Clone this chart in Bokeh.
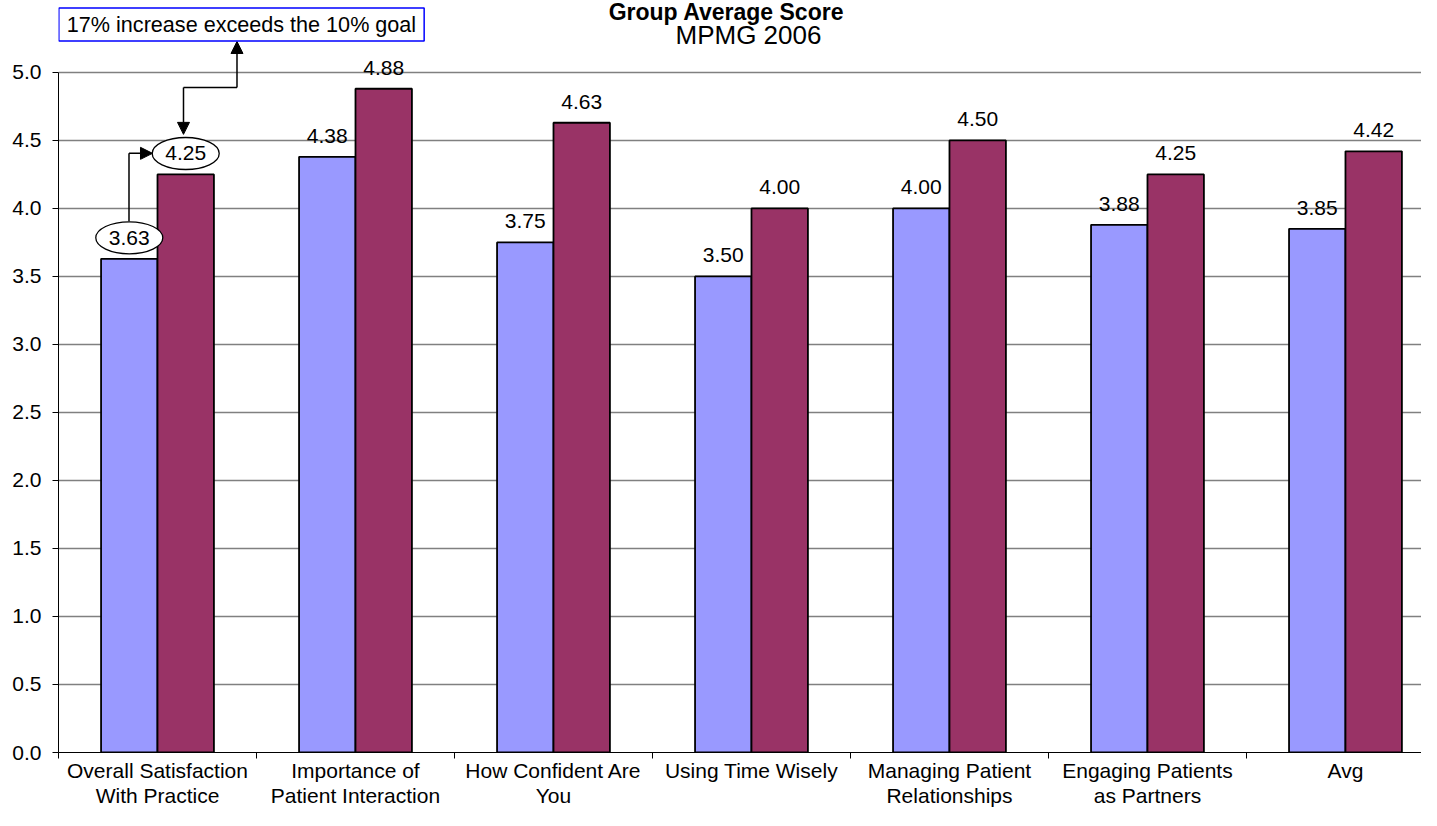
from bokeh.plotting import figure
from bokeh.models import (ColumnDataSource, FixedTicker, LabelSet, Label, Arrow,
                          NormalHead, Range1d, NumeralTickFormatter)
from bokeh.transform import dodge
from bokeh.core.properties import value
from bokeh.embed import file_html
from bokeh.resources import INLINE

# ---------------- data ----------------
categories = ["Overall Satisfaction\nWith Practice", "Importance of\nPatient Interaction",
              "How Confident Are\nYou", "Using Time Wisely", "Managing Patient\nRelationships",
              "Engaging Patients\nas Partners", "Avg"]
before = [3.63, 4.38, 3.75, 3.50, 4.00, 3.88, 3.85]
after = [4.25, 4.88, 4.63, 4.00, 4.50, 4.25, 4.42]
y_ticks = [0.0, 0.5, 1.0, 1.5, 2.0, 2.5, 3.0, 3.5, 4.0, 4.5, 5.0]
title_text = "Group Average Score"
subtitle_text = "MPMG 2006"
note_text = "17% increase exceeds the 10% goal"

BLUE = "#9999FF"
MAROON = "#993366"
FONT_NAME = "Liberation Sans"
FONT = value(FONT_NAME)

xs = list(range(len(categories)))
src = ColumnDataSource(dict(
    x=xs, before=before, after=after,
    before_txt=[f"{v:.2f}" for v in before],
    after_txt=[f"{v:.2f}" for v in after],
))

# frame: left 58px, top 0px (room for titles/annotations), bottom ~753px
Y_TOP = 5.529
p = figure(width=1421, height=810, x_range=Range1d(-0.5, 6.384), y_range=Range1d(0, Y_TOP),
           output_backend="svg", toolbar_location=None, title=None,
           min_border_left=58, min_border_right=0, min_border_top=0, min_border_bottom=57)
p.outline_line_color = None
p.background_fill_color = "white"
p.border_fill_color = "white"

OFF = 0.1425
W = 0.285
p.vbar(x=dodge("x", -OFF, range=p.x_range), top="before", width=W, source=src,
       fill_color=BLUE, line_color="black", line_width=1.8)
p.vbar(x=dodge("x", OFF, range=p.x_range), top="after", width=W, source=src,
       fill_color=MAROON, line_color="black", line_width=1.8)

# helpers mapping reference pixels to data coordinates (annotation placement only)
PX_PER_UNIT = 136.2
def dx(px):
    return -0.5 + (px - 58) / 198.0

def dy(py):
    return 5.0 - (py - 72) / PX_PER_UNIT

# ellipses around the first pair of labels
p.ellipse(x=[xs[0] - OFF, xs[0] + OFF],
          y=[before[0] + 21 / PX_PER_UNIT, after[0] + 21 / PX_PER_UNIT],
          width=67, height=32, width_units="screen", height_units="screen",
          fill_color="white", line_color="black", line_width=1.3)

lbl_kw = dict(text_align="center", text_baseline="middle", y_offset=21,
              text_font=FONT, text_font_size="21px", text_color="black", source=src)
p.add_layout(LabelSet(x=dodge("x", -OFF, range=p.x_range), y="before", text="before_txt", **lbl_kw))
p.add_layout(LabelSet(x=dodge("x", OFF, range=p.x_range), y="after", text="after_txt", **lbl_kw))

# arrows
def seg(x0, y0, x1, y1, head=False):
    end = NormalHead(size=12, fill_color="black", line_color="black") if head else None
    p.add_layout(Arrow(x_start=dx(x0), y_start=dy(y0), x_end=dx(x1), y_end=dy(y1),
                       end=end, line_color="black", line_width=1.5))

seg(128.5, 221, 128.5, 153)
seg(128.5, 153, 152, 153, head=True)
seg(183, 87, 183, 134, head=True)
seg(183, 87, 236.5, 87)
seg(236.5, 87, 236.5, 41, head=True)

# titles
p.add_layout(Label(x=dx(726), y=dy(11), text=title_text, text_align="center",
                   text_baseline="middle", text_font=FONT_NAME, text_font_size="23px",
                   text_font_style="bold", text_color="black"))
p.add_layout(Label(x=dx(748), y=dy(34), text=subtitle_text, text_align="center",
                   text_baseline="middle", text_font=FONT_NAME, text_font_size="26px",
                   text_color="black"))

# note box
p.add_layout(Label(x=dx(241), y=dy(24), text=note_text, text_align="center",
                   text_baseline="middle", text_font=FONT_NAME, text_font_size="21.6px",
                   text_color="black", border_line_color="#0000FF", border_line_width=1.5,
                   background_fill_color="white", padding=(8, 4)))

# axes
p.yaxis.ticker = FixedTicker(ticks=y_ticks)
p.yaxis.bounds = (0, 5)
p.yaxis.formatter = NumeralTickFormatter(format="0.0")
p.yaxis.major_tick_out = 6
p.yaxis.major_tick_in = 0
p.yaxis.minor_tick_out = 0
p.yaxis.minor_tick_in = 0
p.yaxis.major_label_standoff = 11
p.yaxis.axis_line_color = "black"
p.yaxis.major_tick_line_color = "black"
p.yaxis.major_label_text_font = FONT_NAME
p.yaxis.major_label_text_font_size = "21px"
p.yaxis.major_label_text_color = "black"

p.xaxis.ticker = FixedTicker(ticks=xs, minor_ticks=[i - 0.5 for i in range(len(xs) + 1)])
p.xaxis.major_label_overrides = {i: c for i, c in zip(xs, categories)}
p.xaxis.major_tick_out = 0
p.xaxis.major_tick_in = 0
p.xaxis.minor_tick_out = 6
p.xaxis.minor_tick_in = 0
p.xaxis.minor_tick_line_color = "black"
p.xaxis.axis_line_color = "black"
p.xaxis.major_label_standoff = 0
p.xaxis.major_label_text_font = FONT_NAME
p.xaxis.major_label_text_font_size = "21px"
p.xaxis.major_label_text_color = "black"
p.xaxis.major_label_text_line_height = 1.12

p.xgrid.grid_line_color = None
p.ygrid.ticker = FixedTicker(ticks=y_ticks)
p.ygrid.grid_line_color = "#808080"
p.ygrid.grid_line_width = 1.3

open("out.html", "w").write(file_html(p, INLINE))
